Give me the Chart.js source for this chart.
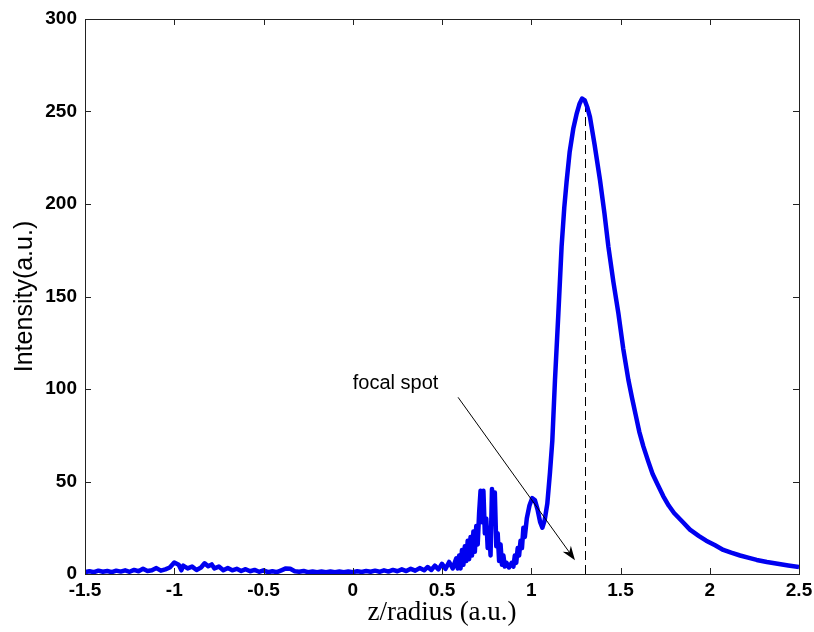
<!DOCTYPE html>
<html>
<head>
<meta charset="utf-8">
<script src="https://cdn.jsdelivr.net/npm/chart.js@4"></script>
<style>
  html, body { margin: 0; padding: 0; background: #fff; }
  canvas { display: block; }
</style>
</head>
<body>
<canvas id="focusChart" width="814" height="632"></canvas>
<script>
// z/radius positions (a.u.)
const zValues = [
  -1.5, -1.475, -1.45, -1.425, -1.4, -1.375, -1.35, -1.325, -1.3, -1.275,
  -1.25, -1.225, -1.2, -1.175, -1.15, -1.125, -1.1, -1.075, -1.05, -1.025,
  -1.0, -0.975, -0.96, -0.95, -0.925, -0.9, -0.875, -0.85, -0.83, -0.81,
  -0.79, -0.775, -0.75, -0.725, -0.7, -0.675, -0.65, -0.625, -0.6, -0.575,
  -0.55, -0.525, -0.5, -0.475, -0.45, -0.425, -0.4, -0.375, -0.35, -0.325,
  -0.3, -0.275, -0.25, -0.225, -0.2, -0.175, -0.15, -0.125, -0.1, -0.075,
  -0.05, -0.025, 0, 0.025, 0.05, 0.075, 0.1, 0.125, 0.15, 0.175,
  0.2, 0.225, 0.25, 0.275, 0.3, 0.325, 0.35, 0.375, 0.4, 0.42,
  0.44, 0.46, 0.48, 0.5, 0.52, 0.54, 0.56, 0.58, 0.588, 0.596,
  0.604, 0.612, 0.62, 0.628, 0.636, 0.644, 0.652, 0.66, 0.668, 0.676,
  0.684, 0.692, 0.7, 0.708, 0.716, 0.724, 0.732, 0.74, 0.748, 0.756,
  0.764, 0.772, 0.78, 0.788, 0.796, 0.804, 0.812, 0.82, 0.828, 0.836,
  0.844, 0.852, 0.862, 0.875, 0.89, 0.9, 0.908, 0.916, 0.924, 0.932,
  0.94, 0.948, 0.956, 0.964, 0.975, 0.99, 1.005, 1.02, 1.035, 1.05,
  1.062, 1.075, 1.09, 1.105, 1.118, 1.133, 1.152, 1.17, 1.185, 1.198,
  1.215, 1.236, 1.255, 1.27, 1.285, 1.3, 1.315, 1.329, 1.355, 1.385,
  1.41, 1.432, 1.46, 1.488, 1.515, 1.544, 1.565, 1.585, 1.605, 1.628,
  1.655, 1.68, 1.71, 1.74, 1.77, 1.8, 1.85, 1.889, 1.94, 1.98,
  2.03, 2.076, 2.12, 2.17, 2.22, 2.263, 2.32, 2.38, 2.44, 2.5
];

// Intensity (a.u.)
const intensity = [
  1.0, 1.5, 1.0, 1.8, 1.2, 1.6, 1.0, 1.8, 1.3, 2.0,
  1.2, 2.2, 1.5, 2.8, 1.6, 2.0, 3.2, 1.8, 2.5, 3.5,
  6.2, 5.0, 2.0, 4.5, 3.0, 4.0, 2.2, 3.5, 5.8, 4.2,
  5.2, 3.0, 4.0, 2.0, 3.2, 2.0, 2.8, 1.6, 2.6, 1.5,
  2.2, 1.2, 2.0, 1.0, 1.5, 1.0, 2.0, 3.0, 2.8, 1.5,
  1.2, 1.6, 1.0, 1.4, 1.0, 1.3, 1.0, 1.4, 1.0, 1.3,
  1.0, 1.4, 1.0, 1.5, 1.1, 1.6, 1.2, 1.8, 1.2, 2.0,
  1.3, 2.2, 1.5, 2.5, 1.6, 2.8, 1.8, 3.2, 2.0, 3.8,
  2.2, 4.5, 2.5, 5.5, 2.8, 6.5, 3.0, 8.5, 3.0, 10,
  3, 13, 5, 15, 7, 18, 8, 20, 10, 23,
  12, 26, 16, 33, 45, 28, 45, 22, 30, 14,
  25, 10, 46, 30, 44, 15, 22, 7, 16, 5,
  10, 4, 6, 3.5, 6, 4, 10, 6, 14, 10,
  18, 14, 25, 20, 30, 37, 41, 40, 35, 28,
  25, 29, 38, 55, 72, 105, 141, 177, 198, 212,
  228, 241, 249, 254, 257, 256, 252, 247, 232, 213,
  195, 177, 158, 141, 122, 105, 95, 86, 77, 69,
  61, 54, 48, 42, 37, 33, 28, 24, 20.5, 18,
  15.5, 13, 11.5, 10, 8.7, 7.6, 6.5, 5.5, 4.6, 3.8
];

const xTicks = [-1.5, -1, -0.5, 0, 0.5, 1, 1.5, 2, 2.5];
const yTicks = [0, 50, 100, 150, 200, 250, 300];

// focal spot marker and annotation (data units)
const focalZ = 1.3;
const focalPeak = 256;
const noteText = "focal spot";
const noteAt = { x: 0.0, y: 100 };
const arrowFrom = { x: 0.59, y: 95.5 };
const arrowTo = { x: 1.245, y: 7.5 };

const points = zValues.map((z, i) => ({ x: z, y: intensity[i] }));

// MATLAB-like frame: box, inward ticks, focal line, arrow
const matlabFrame = {
  id: "matlabFrame",
  beforeDatasetsDraw(chart) {
    const { ctx, scales } = chart;
    const px = Math.round(scales.x.getPixelForValue(focalZ)) + 0.5;
    ctx.save();
    ctx.strokeStyle = "#000";
    ctx.lineWidth = 1;
    ctx.setLineDash([9, 5]);
    ctx.beginPath();
    ctx.moveTo(px, scales.y.getPixelForValue(0));
    ctx.lineTo(px, scales.y.getPixelForValue(focalPeak));
    ctx.stroke();
    ctx.restore();
  },
  afterDraw(chart) {
    const { ctx, chartArea, scales } = chart;
    const { left, right, top, bottom } = chartArea;
    ctx.save();
    ctx.strokeStyle = "#222";
    ctx.lineWidth = 1;
    ctx.strokeRect(left + 0.5, top + 0.5, right - left, bottom - top);

    const tl = 6;
    ctx.beginPath();
    xTicks.forEach((v) => {
      const p = Math.round(scales.x.getPixelForValue(v)) + 0.5;
      ctx.moveTo(p, bottom); ctx.lineTo(p, bottom - tl);
      ctx.moveTo(p, top); ctx.lineTo(p, top + tl);
    });
    yTicks.forEach((v) => {
      const p = Math.round(scales.y.getPixelForValue(v)) + 0.5;
      ctx.moveTo(left, p); ctx.lineTo(left + tl, p);
      ctx.moveTo(right, p); ctx.lineTo(right - tl, p);
    });
    ctx.stroke();

    // annotation text
    ctx.fillStyle = "#000";
    ctx.font = "20px 'Liberation Sans', Arial, sans-serif";
    ctx.textBaseline = "alphabetic";
    ctx.textAlign = "left";
    ctx.fillText(noteText, scales.x.getPixelForValue(noteAt.x), scales.y.getPixelForValue(noteAt.y));

    // arrow
    const x1 = scales.x.getPixelForValue(arrowFrom.x);
    const y1 = scales.y.getPixelForValue(arrowFrom.y);
    const x2 = scales.x.getPixelForValue(arrowTo.x);
    const y2 = scales.y.getPixelForValue(arrowTo.y);
    const ang = Math.atan2(y2 - y1, x2 - x1);
    const headLen = 14;
    const headW = 5;
    ctx.strokeStyle = "#000";
    ctx.beginPath();
    ctx.moveTo(x1, y1);
    ctx.lineTo(x2 - Math.cos(ang) * 8, y2 - Math.sin(ang) * 8);
    ctx.stroke();
    const bx = x2 - Math.cos(ang) * headLen;
    const by = y2 - Math.sin(ang) * headLen;
    const nx = x2 - Math.cos(ang) * headLen * 0.7;
    const ny = y2 - Math.sin(ang) * headLen * 0.7;
    ctx.beginPath();
    ctx.moveTo(x2, y2);
    ctx.lineTo(bx + Math.sin(ang) * headW, by - Math.cos(ang) * headW);
    ctx.lineTo(nx, ny);
    ctx.lineTo(bx - Math.sin(ang) * headW, by + Math.cos(ang) * headW);
    ctx.closePath();
    ctx.fill();
    ctx.restore();
  }
};

const tickFont = { family: "'Liberation Sans', Arial, sans-serif", size: 19, weight: "bold" };

new Chart(document.getElementById("focusChart"), {
  type: "scatter",
  data: {
    datasets: [{
      data: points,
      showLine: true,
      borderColor: "#0000f0",
      borderWidth: 4.5,
      borderJoinStyle: "round",
      pointRadius: 0,
      tension: 0,
      fill: false
    }]
  },
  options: {
    responsive: false,
    animation: false,
    devicePixelRatio: 1,
    layout: { padding: { top: 19, right: 15, left: 0, bottom: 0 } },
    plugins: { legend: { display: false }, tooltip: { enabled: false } },
    scales: {
      x: {
        type: "linear",
        min: -1.5,
        max: 2.5,
        grid: { display: false, drawTicks: false },
        border: { display: false },
        afterBuildTicks: (s) => { s.ticks = xTicks.map((v) => ({ value: v })); },
        afterFit: (s) => { s.height = 58; s.paddingLeft = 0; s.paddingRight = 0; },
        ticks: { color: "#000", font: tickFont, padding: 5, maxRotation: 0, autoSkip: false,
          callback: (v) => String(v) },
        title: {
          display: true,
          text: "z/radius (a.u.)",
          color: "#000",
          font: { family: "'Liberation Serif', 'Times New Roman', serif", size: 27 },
          padding: { top: 0, bottom: 3 }
        }
      },
      y: {
        min: 0,
        max: 300,
        grid: { display: false, drawTicks: false },
        border: { display: false },
        afterBuildTicks: (s) => { s.ticks = yTicks.map((v) => ({ value: v })); },
        afterFit: (s) => { s.width = 85; s.paddingTop = 0; s.paddingBottom = 0; },
        ticks: { color: "#000", font: tickFont, padding: 8, autoSkip: false },
        title: {
          display: true,
          text: "Intensity(a.u.)",
          color: "#000",
          font: { family: "'Liberation Sans', Arial, sans-serif", size: 25 },
          padding: { top: 10, bottom: 4 }
        }
      }
    }
  },
  plugins: [matlabFrame]
});
</script>
</body>
</html>
